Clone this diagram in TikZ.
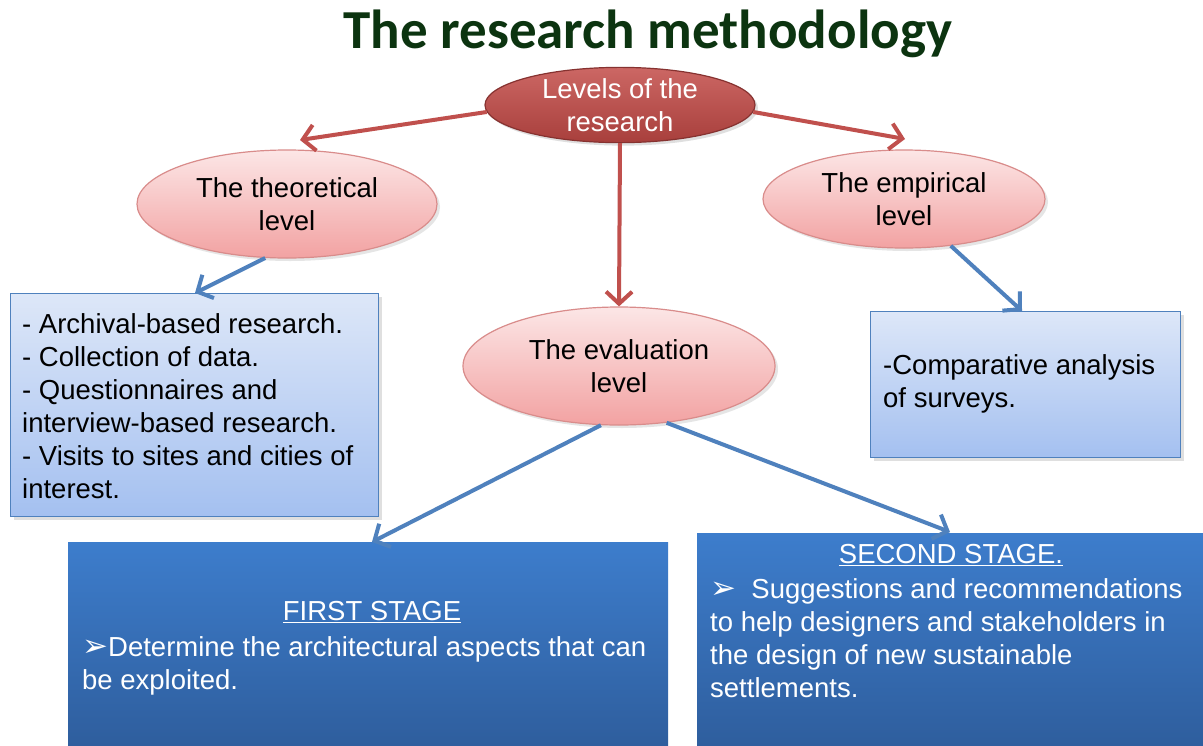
\documentclass[tikz,border=0pt]{standalone}
\usepackage{fontspec}
\setmainfont{Liberation Sans}
\newfontfamily\titlefont{Carlito}
\newfontfamily\symfont{DejaVu Sans}
\usetikzlibrary{arrows.meta,shapes.geometric,shadows}
\definecolor{redline}{HTML}{C0504D}
\definecolor{blueline}{HTML}{4F81BD}
\definecolor{titlegreen}{HTML}{0C3410}
\definecolor{pinktop}{HTML}{FCE6E6}
\definecolor{pinkbot}{HTML}{F2A2A2}
\definecolor{pinkedge}{HTML}{D98C8B}
\definecolor{lbtop}{HTML}{DDE7F8}
\definecolor{lbbot}{HTML}{A4C0F0}
\definecolor{dbtop}{HTML}{3D7DCC}
\definecolor{dbbot}{HTML}{2E5D9C}
\definecolor{lvtop}{HTML}{CC6764}
\definecolor{lvbot}{HTML}{A83F3C}
\tikzset{
  redarrow/.style={draw=redline, line width=4pt, -{Straight Barb[length=12pt,width=26pt,line width=4pt]}},
  bluearrow/.style={draw=blueline, line width=4pt, -{Straight Barb[length=12pt,width=26pt,line width=4pt]}},
  bigfont/.style={font=\fontsize{27.5}{33}\selectfont},
  pinkell/.style={ellipse, draw=pinkedge, line width=1.2pt, top color=pinktop, bottom color=pinkbot, inner sep=0pt, align=center, bigfont, drop shadow={opacity=0.2,shadow xshift=3pt,shadow yshift=-3pt}},
  lightbox/.style={rectangle, draw=blueline, line width=1pt, top color=lbtop, bottom color=lbbot, inner sep=0pt, drop shadow={opacity=0.25,shadow xshift=3pt,shadow yshift=-3pt}},
  darkbox/.style={rectangle, draw=none, top color=dbtop, bottom color=dbbot, inner sep=0pt},
  bodytext/.style={bigfont, align=left, inner sep=0pt},
}
\newcommand{\bulletarrow}{{\symfont\fontsize{31}{33}\selectfont ➢}}
\begin{document}
\begin{tikzpicture}[x=1pt,y=-1pt]
\useasboundingbox (0,0) rectangle (1203,745);
\fill[white] (0,0) rectangle (1203,745);
% title
\node[font=\titlefont\bfseries\fontsize{55}{60}\selectfont, text=titlegreen] (title) at (648,34) {The research methodology};
% ellipses
\node[ellipse, draw=lvbot!80!black, line width=1.2pt, top color=lvtop, bottom color=lvbot, minimum width=270pt, minimum height=68pt, inner sep=0pt, align=center, text=white, bigfont, drop shadow={opacity=0.25,shadow xshift=3pt,shadow yshift=-3pt}] (levels) at (620,105) {Levels of the\\research};
\node[pinkell, minimum width=300pt, minimum height=108pt] (theo) at (287,204) {The theoretical\\level};
\node[pinkell, minimum width=282pt, minimum height=98pt] (emp) at (904,199) {The empirical\\level};
\node[pinkell, minimum width=312pt, minimum height=118pt] (eval) at (619,366) {The evaluation\\level};
% light boxes
\node[lightbox, minimum width=368pt, minimum height=223pt, anchor=north west] (lbox) at (10,293) {};
\node[bodytext, anchor=north west] (ltext) at (22,313) {- Archival-based research.\\- Collection of data.\\- Questionnaires and\\interview-based research.\\- Visits to sites and cities of\\interest.};
\node[lightbox, minimum width=310pt, minimum height=146pt, anchor=north west] (rbox) at (870,311) {};
\node[bodytext, anchor=west] (rtext) at (883,384) {-Comparative analysis\\of surveys.};
% dark boxes
\node[darkbox, minimum width=600pt, minimum height=210pt, anchor=north west] (first) at (68,542) {};
\node[darkbox, minimum width=506pt, minimum height=220pt, anchor=north west] (second) at (697,533) {};
\node[bigfont, text=white, inner sep=0pt] (firstttl) at (372,612) {\underline{FIRST STAGE}};
\node[bodytext, text=white, anchor=north west] (firsttxt) at (82,636) {\bulletarrow Determine the architectural aspects that can\\be exploited.};
\node[bigfont, text=white, inner sep=0pt] (secttl) at (951,555) {\underline{SECOND STAGE.}};
\node[bodytext, text=white, anchor=north west] (sectxt) at (710,578) {\bulletarrow\ \ Suggestions and recommendations\\to help designers and stakeholders in\\the design of new sustainable\\settlements.};
% connectors
\coordinate (tL) at (300,140);
\coordinate (tR) at (905,139);
\coordinate (lboxtop) at (195,293);
\coordinate (rboxtop) at (1022,311);
\coordinate (fbtop) at (372,542);
\coordinate (sbtop) at (950,532);
\draw[redarrow] (levels.183) -- (tL);
\draw[redarrow] (levels.357) -- (tR);
\draw[redarrow] (levels.south) -- (eval.north);
\draw[bluearrow] (theo.-112) -- (lboxtop);
\draw[bluearrow] (emp.-45) -- (rboxtop);
\draw[bluearrow] (eval.-107) -- (fbtop);
\draw[bluearrow] (eval.-50) -- (sbtop);
\end{tikzpicture}
\end{document}
